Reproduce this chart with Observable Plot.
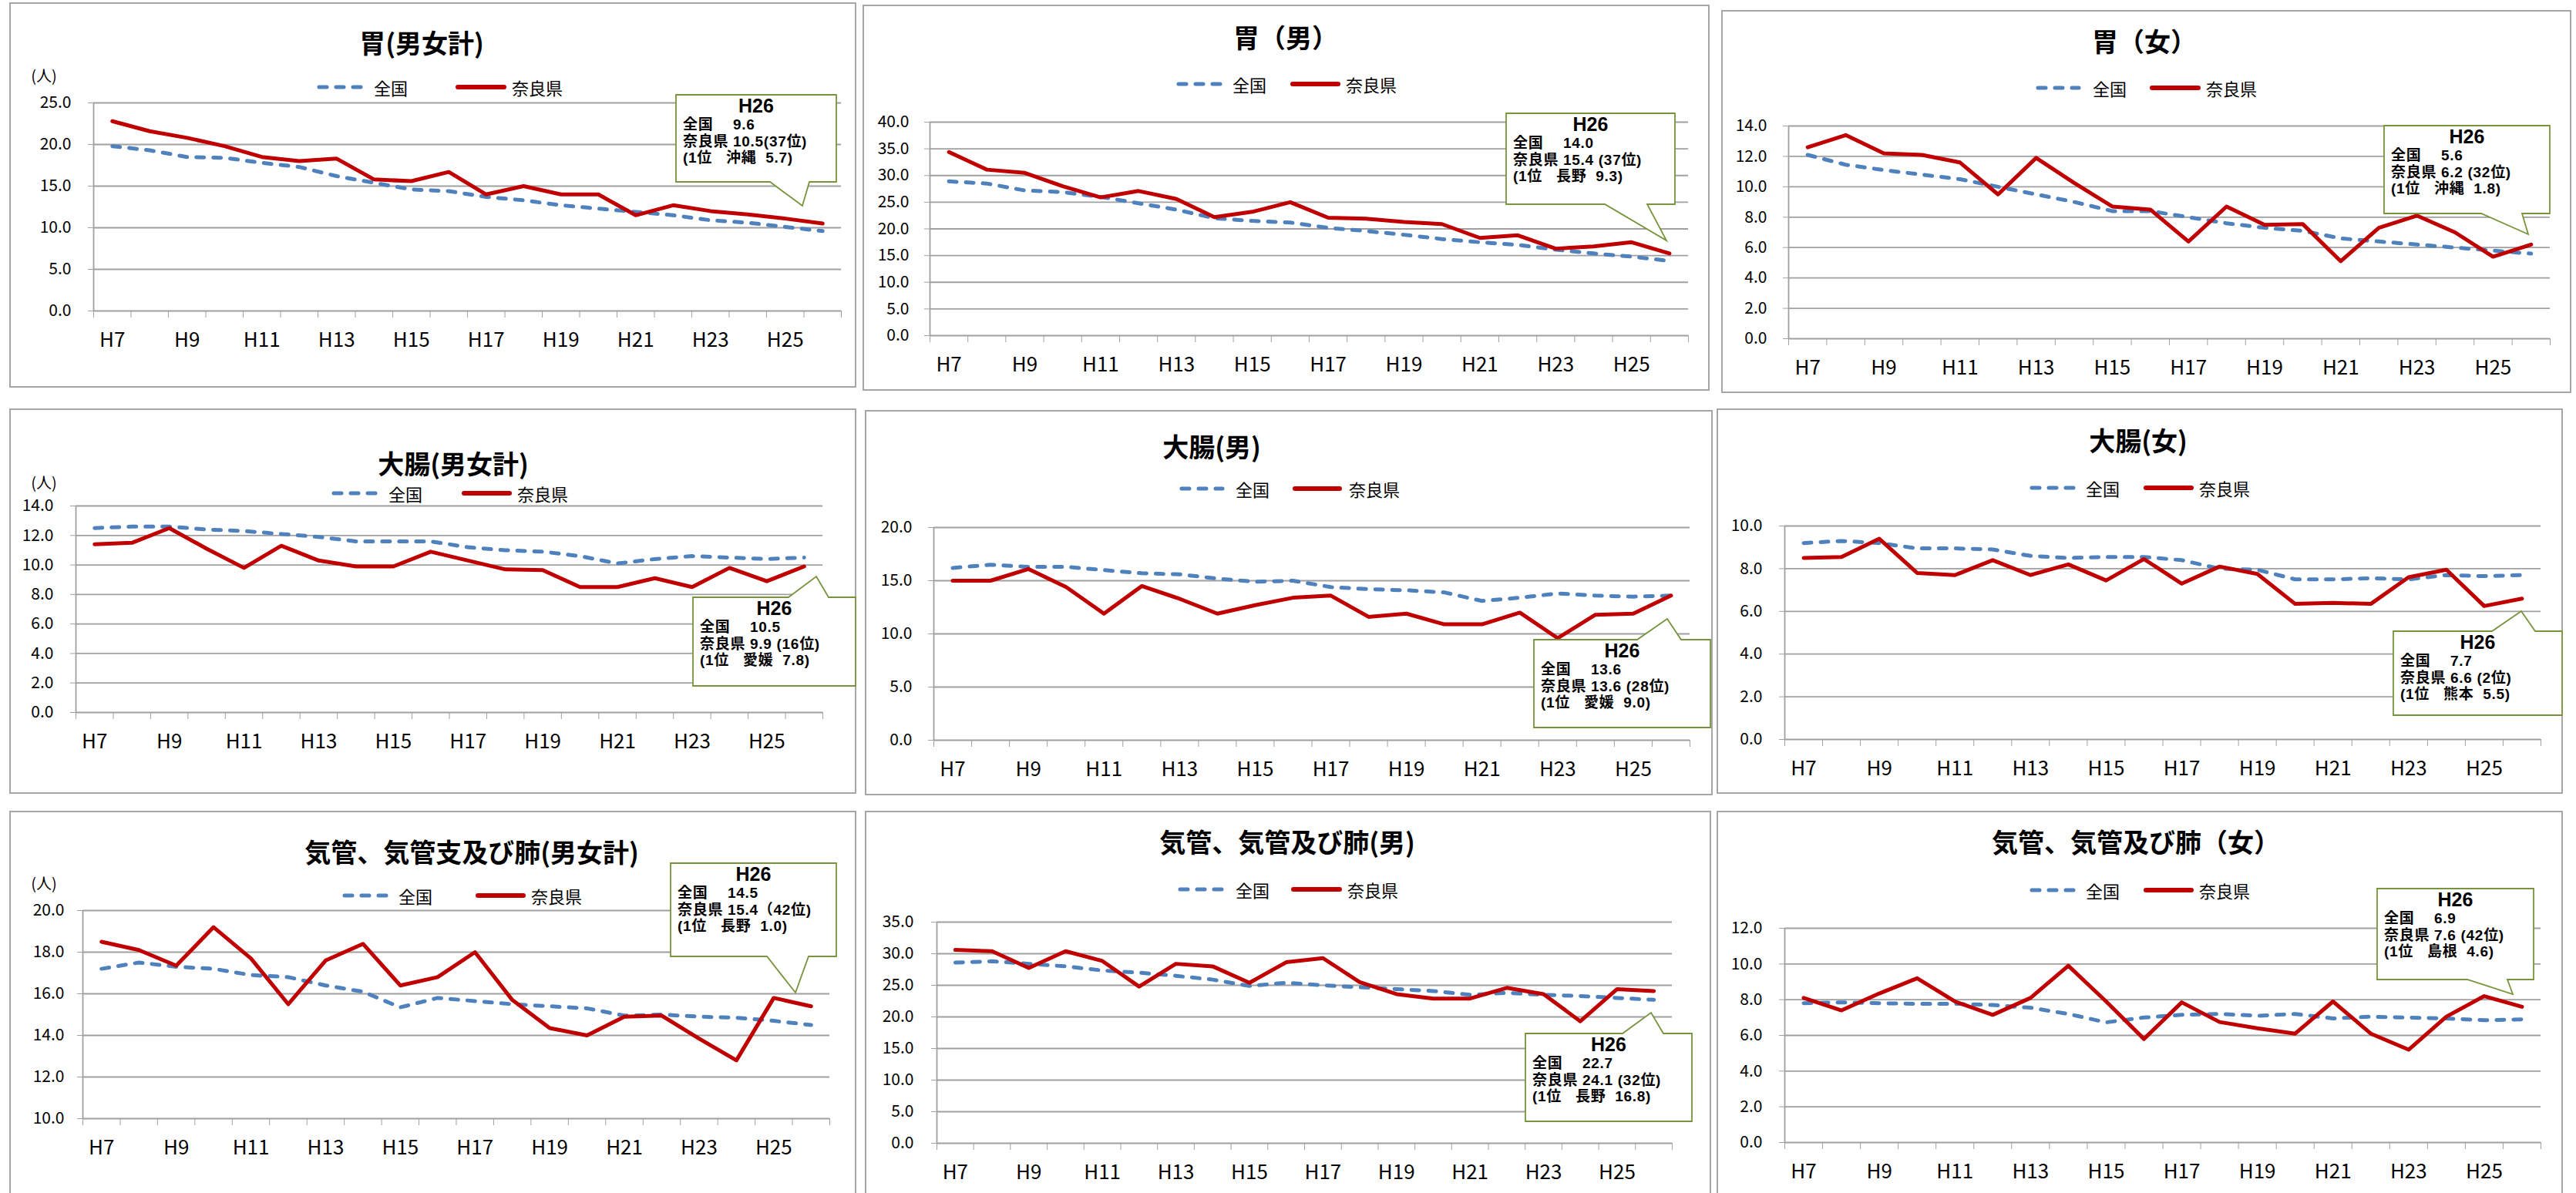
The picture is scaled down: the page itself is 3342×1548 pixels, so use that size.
<!DOCTYPE html>
<html>
<head>
<meta charset="utf-8">
<script src="https://cdn.jsdelivr.net/npm/d3@7"></script>
<script src="https://cdn.jsdelivr.net/npm/@observablehq/plot@0.6"></script>
<style>
html,body{margin:0;padding:0;background:#fff;}
body{width:3342px;height:1548px;overflow:hidden;position:relative;font-family:"Noto Sans CJK JP","Noto Sans",sans-serif;color:#000;}
.panel{position:absolute;border:2px solid #a6a6a6;box-sizing:border-box;background:#fff;}
.abs{position:absolute;white-space:pre;}
.title{font-weight:bold;font-size:34px;line-height:1;transform:translate(-50%,-50%);}
.leg{font-size:22px;line-height:1;transform:translateY(-50%);}
.unit{font-size:20px;line-height:1;transform:translate(-50%,-50%);}
.callout{position:absolute;font-family:"Liberation Sans","Noto Sans CJK JP",sans-serif;}
.callout .h{font-weight:bold;font-size:25px;line-height:28px;text-align:center;}
.callout .l{font-weight:bold;font-size:19px;line-height:21.5px;padding-left:9px;white-space:pre;letter-spacing:0.7px;}
svg line{stroke-width:1.8px;}
</style>
</head>
<body>
<script>
// ---- data ----
const years = ["H7","H8","H9","H10","H11","H12","H13","H14","H15","H16","H17","H18","H19","H20","H21","H22","H23","H24","H25","H26"];
const xLabelIndex = [0,2,4,6,8,10,12,14,16,18];

const stomachTotalNational = [19.8,19.3,18.5,18.4,17.8,17.3,16.2,15.4,14.6,14.4,13.7,13.3,12.7,12.3,11.9,11.5,10.9,10.6,10.1,9.6];
const stomachTotalNara     = [22.8,21.6,20.8,19.8,18.5,18.0,18.3,15.8,15.6,16.7,14.0,15.0,14.0,14.0,11.5,12.7,12.0,11.6,11.1,10.5];
const stomachMaleNational  = [28.9,28.5,27.2,26.9,26.0,24.8,23.6,22.0,21.5,21.2,20.2,19.6,18.9,18.1,17.5,17.0,16.1,15.4,14.8,14.0];
const stomachMaleNara      = [34.4,31.1,30.5,28.0,25.9,27.1,25.6,22.2,23.2,25.0,22.1,21.9,21.3,20.9,18.3,18.8,16.3,16.7,17.5,15.4];
const stomachFemaleNational= [12.1,11.45,11.1,10.8,10.5,10.0,9.5,9.0,8.4,8.4,8.0,7.6,7.3,7.1,6.6,6.4,6.2,6.0,5.8,5.6];
const stomachFemaleNara    = [12.6,13.4,12.2,12.1,11.6,9.5,11.9,10.25,8.7,8.5,6.4,8.7,7.5,7.55,5.1,7.3,8.1,7.0,5.4,6.2];

const colonTotalNational   = [12.5,12.6,12.6,12.4,12.3,12.1,11.9,11.6,11.6,11.6,11.2,11.0,10.9,10.6,10.1,10.4,10.6,10.5,10.4,10.5];
const colonTotalNara       = [11.4,11.5,12.5,11.1,9.8,11.3,10.3,9.9,9.9,10.9,10.3,9.7,9.65,8.5,8.5,9.1,8.5,9.8,8.9,9.9];
const colonMaleNational    = [16.2,16.5,16.3,16.3,16.0,15.7,15.6,15.2,14.9,15.0,14.4,14.2,14.1,13.9,13.1,13.4,13.8,13.6,13.5,13.6];
const colonMaleNara        = [15.0,15.0,16.1,14.4,11.9,14.5,13.3,11.9,12.7,13.4,13.6,11.6,11.9,10.9,10.9,12.0,9.6,11.8,11.9,13.6];
const colonFemaleNational  = [9.2,9.3,9.2,8.95,8.95,8.9,8.6,8.5,8.55,8.55,8.4,8.0,7.95,7.5,7.5,7.55,7.5,7.7,7.65,7.7];
const colonFemaleNara      = [8.5,8.55,9.4,7.8,7.7,8.4,7.7,8.2,7.45,8.45,7.3,8.1,7.75,6.35,6.4,6.35,7.6,7.95,6.25,6.6];

const lungTotalNational    = [17.2,17.5,17.3,17.2,16.9,16.8,16.4,16.1,15.35,15.8,15.65,15.5,15.4,15.3,14.95,15.0,14.9,14.85,14.7,14.5];
const lungTotalNara        = [18.5,18.1,17.35,19.2,17.7,15.5,17.6,18.4,16.4,16.8,18.0,15.7,14.35,14.0,14.9,14.95,13.85,12.8,15.8,15.4];
const lungMaleNational     = [28.6,28.8,28.4,28.0,27.35,27.0,26.5,25.9,24.9,25.4,25.0,24.7,24.4,24.1,23.5,23.8,23.5,23.3,23.0,22.7];
const lungMaleNara         = [30.6,30.4,27.75,30.4,28.85,24.8,28.4,28.0,25.4,28.65,29.3,25.5,23.6,22.9,22.9,24.6,23.6,19.3,24.4,24.1];
const lungFemaleNational   = [7.8,7.85,7.8,7.77,7.77,7.7,7.55,7.2,6.73,7.0,7.15,7.2,7.1,7.2,6.95,7.05,7.0,6.95,6.85,6.9];
const lungFemaleNara       = [8.1,7.4,8.35,9.2,7.9,7.15,8.1,9.9,7.9,5.8,7.85,6.75,6.4,6.1,7.9,6.1,5.2,7.05,8.2,7.6];

const ticks0to25 = [0,5,10,15,20,25];
const ticks0to40 = [0,5,10,15,20,25,30,35,40];
const ticks0to14 = [0,2,4,6,8,10,12,14];
const ticks0to20 = [0,5,10,15,20];
const ticks0to10 = [0,2,4,6,8,10];
const ticks10to20 = [10,12,14,16,18,20];
const ticks0to35 = [0,5,10,15,20,25,30,35];
const ticks0to12 = [0,2,4,6,8,10,12];

const seriesNames = ["全国","奈良県"];

// ---- layout ----
const FONT = '"Noto Sans CJK JP","Noto Sans",sans-serif';
const panels = [
 {title:"胃(男女計)", nat:stomachTotalNational, nara:stomachTotalNara, yTicks:ticks0to25,
  box:[13,4,1110,502], frame:[121,133,1091,403], titlePos:[547,55], unit:[57,98], ydx:-29,
  legend:{y:113,d1:[411,471],t1:485,d2:[591,657],t2:664},
  callout:{box:[877,123,1085,236],base:[999,1050],tip:[1041,267],
   lines:["全国　 9.6","奈良県 10.5(37位)","(1位   沖縄  5.7)"]}},
 {title:"胃（男）", nat:stomachMaleNational, nara:stomachMaleNara, yTicks:ticks0to40,
  box:[1120,7,2217,506], frame:[1206,158,2190,435], titlePos:[1668,48], unit:null, ydx:-27,
  legend:{y:109,d1:[1526,1586],t1:1599,d2:[1674,1739],t2:1746},
  callout:{box:[1954,147,2173,265],base:[2082,2137],tip:[2162,312],
   lines:["全国　 14.0","奈良県 15.4 (37位)","(1位   長野  9.3)"]}},
 {title:"胃（女）", nat:stomachFemaleNational, nara:stomachFemaleNara, yTicks:ticks0to14,
  box:[2234,14,3335,509], frame:[2320,163,3308,439], titlePos:[2782,53], unit:null, ydx:-28,
  legend:{y:114,d1:[2641,2700],t1:2715,d2:[2789,2855],t2:2862},
  callout:{box:[3093,163,3308,277],base:[3219,3272],tip:[3280,304],
   lines:["全国　 5.6","奈良県 6.2 (32位)","(1位   沖縄  1.8)"]}},
 {title:"大腸(男女計)", nat:colonTotalNational, nara:colonTotalNara, yTicks:ticks0to14,
  box:[13,531,1110,1029], frame:[98,656,1067,924], titlePos:[588,601], unit:[57,626], ydx:-29,
  legend:{y:640,d1:[430,490],t1:504,d2:[599,664],t2:671},
  callout:{box:[899,775,1110,890],base:[1023,1075],tip:[1059,748],
   lines:["全国　 10.5","奈良県 9.9 (16位)","(1位   愛媛  7.8)"]}},
 {title:"大腸(男)", nat:colonMaleNational, nara:colonMaleNara, yTicks:ticks0to20,
  box:[1123,533,2221,1031], frame:[1211,684,2192,960], titlePos:[1572,579], unit:null, ydx:-28,
  legend:{y:634,d1:[1530,1589],t1:1603,d2:[1677,1741],t2:1750},
  callout:{box:[1990,830,2219,944],base:[2124,2181],tip:[2163,803],
   lines:["全国　 13.6","奈良県 13.6 (28位)","(1位   愛媛  9.0)"]}},
 {title:"大腸(女)", nat:colonFemaleNational, nara:colonFemaleNara, yTicks:ticks0to10,
  box:[2228,531,3324,1029], frame:[2315,682,3296,959], titlePos:[2774,571], unit:null, ydx:-29,
  legend:{y:633,d1:[2633,2693],t1:2706,d2:[2781,2846],t2:2853},
  callout:{box:[3105,819,3324,928],base:[3233,3289],tip:[3271,793],
   lines:["全国　 7.7","奈良県 6.6 (2位)","(1位   熊本  5.5)"]}},
 {title:"気管、気管支及び肺(男女計)", nat:lungTotalNational, nara:lungTotalNara, yTicks:ticks10to20,
  box:[13,1053,1110,1575], frame:[107,1181,1076,1451], titlePos:[612,1105], unit:[57,1146], ydx:-24,
  legend:{y:1162,d1:[444,504],t1:517,d2:[617,682],t2:689},
  callout:{box:[870,1120,1085,1241],base:[995,1049],tip:[1032,1288],
   lines:["全国　 14.5","奈良県 15.4（42位)","(1位   長野  1.0)"]}},
 {title:"気管、気管及び肺(男)", nat:lungMaleNational, nara:lungMaleNara, yTicks:ticks0to35,
  box:[1123,1053,2219,1575], frame:[1215,1196,2169,1483], titlePos:[1670,1092], unit:null, ydx:-30,
  legend:{y:1154,d1:[1528,1589],t1:1603,d2:[1675,1741],t2:1748},
  callout:{box:[1979,1341,2195,1455],base:[2105,2158],tip:[2142,1314],
   lines:["全国　 22.7","奈良県 24.1 (32位)","(1位   長野  16.8)"]}},
 {title:"気管、気管及び肺（女）", nat:lungFemaleNational, nara:lungFemaleNara, yTicks:ticks0to12,
  box:[2228,1053,3324,1575], frame:[2315,1204,3296,1482], titlePos:[2771,1092], unit:null, ydx:-29,
  legend:{y:1155,d1:[2633,2693],t1:2706,d2:[2781,2846],t2:2853},
  callout:{box:[3084,1153,3287,1271],base:[3201,3253],tip:[3260,1290],
   lines:["全国　 6.9","奈良県 7.6 (42位)","(1位   島根  4.6)"]}}
];

const BLUE = "#4f81bd", RED = "#c00000", GRID = "#a0a0a0", OLIVE = "#77933c";
const boundaries = d3.range(21).map(k => k - 0.5);

function div(cls, x, y, text, extra) {
  const d = document.createElement("div");
  d.className = cls;
  d.style.left = x + "px"; d.style.top = y + "px";
  if (text != null) d.textContent = text;
  if (extra) Object.assign(d.style, extra);
  document.body.appendChild(d);
  return d;
}

// panel frames
for (const p of panels) {
  const [L,T,R,B] = p.box;
  div("panel", L-1, T-1, null, {width:(R-L+2)+"px", height:(B-T+2)+"px"});
}

// plots
for (const p of panels) {
  const [L,T,R,B] = p.box;
  const [fl,ft,fr,fb] = p.frame;
  const ymin = p.yTicks[0], ymax = p.yTicks[p.yTicks.length-1];
  const data = years.map((yr,i) => ({i, nat:p.nat[i], nara:p.nara[i]}));
  const chart = Plot.plot({
    width: R-L, height: B-T,
    marginLeft: fl-L, marginTop: ft-T, marginRight: R-fr, marginBottom: B-fb,
    style: {background:"transparent", color:GRID, fontFamily:FONT, overflow:"visible"},
    x: {domain:[-0.5,19.5], ticks:boundaries, tickSize:9, tickFormat:() => "", label:null},
    y: {domain:[ymin,ymax], ticks:p.yTicks, tickSize:7, tickFormat:() => "", label:null},
    marks: [
      Plot.ruleY(p.yTicks, {stroke:GRID, strokeWidth:1.8}),
      Plot.ruleX([-0.5], {stroke:GRID, strokeWidth:1.8}),
      Plot.line(data, {x:"i", y:"nat", stroke:BLUE, strokeWidth:5, strokeDasharray:"10,12", strokeLinecap:"round", strokeLinejoin:"round"}),
      Plot.line(data, {x:"i", y:"nara", stroke:RED, strokeWidth:5, strokeLinecap:"round", strokeLinejoin:"round"}),
      Plot.text(p.yTicks, {x:-0.5, y:d => d, dx:p.ydx, textAnchor:"end", text:d => d.toFixed(1), fill:"#000", fontSize:21, fontFamily:FONT}),
      Plot.text(xLabelIndex, {x:d => d, y:ymin, dy:38, text:d => years[d], fill:"#000", fontSize:26, fontFamily:FONT})
    ]
  });
  chart.style.position = "absolute";
  chart.style.left = L + "px";
  chart.style.top = T + "px";
  document.body.appendChild(chart);
}

// overlay shapes (legend samples, callouts)
const NS = "http://www.w3.org/2000/svg";
const ov = document.createElementNS(NS, "svg");
ov.setAttribute("width", 3342); ov.setAttribute("height", 1548);
ov.style.position = "absolute"; ov.style.left = "0px"; ov.style.top = "0px";
document.body.appendChild(ov);
function el(tag, attrs) {
  const e = document.createElementNS(NS, tag);
  for (const k in attrs) e.setAttribute(k, attrs[k]);
  ov.appendChild(e);
  return e;
}
for (const p of panels) {
  const g = p.legend;
  el("line", {x1:g.d1[0]+3, x2:g.d1[1]-3, y1:g.y, y2:g.y, stroke:BLUE, "stroke-width":5, "stroke-dasharray":"10,12", "stroke-linecap":"round", style:"stroke-width:5px"});
  el("line", {x1:g.d2[0]+3, x2:g.d2[1]-3, y1:g.y, y2:g.y, stroke:RED, "stroke-width":6, "stroke-linecap":"round", style:"stroke-width:6px"});
  const c = p.callout;
  const [l,t,r,b] = c.box, [b1,b2] = c.base, [tx,ty] = c.tip;
  const d = ty > b
    ? `M${l},${t}H${r}V${b}H${b2}L${tx},${ty}L${b1},${b}H${l}Z`
    : `M${l},${t}H${b1}L${tx},${ty}L${b2},${t}H${r}V${b}H${l}Z`;
  el("path", {d, fill:"#fff", stroke:OLIVE, "stroke-width":1.8});
}

// texts
for (const p of panels) {
  div("abs title", p.titlePos[0], p.titlePos[1], p.title);
  if (p.unit) div("abs unit", p.unit[0], p.unit[1], "(人)");
  const g = p.legend;
  div("abs leg", g.t1, g.y, seriesNames[0]);
  div("abs leg", g.t2, g.y, seriesNames[1]);
  const c = p.callout;
  const box = div("callout", c.box[0], c.box[1], null, {width:(c.box[2]-c.box[0])+"px"});
  const h = document.createElement("div"); h.className = "h"; h.textContent = "H26"; box.appendChild(h);
  for (const line of c.lines) {
    const ld = document.createElement("div"); ld.className = "l"; ld.textContent = line; box.appendChild(ld);
  }
}
</script>
</body>
</html>
